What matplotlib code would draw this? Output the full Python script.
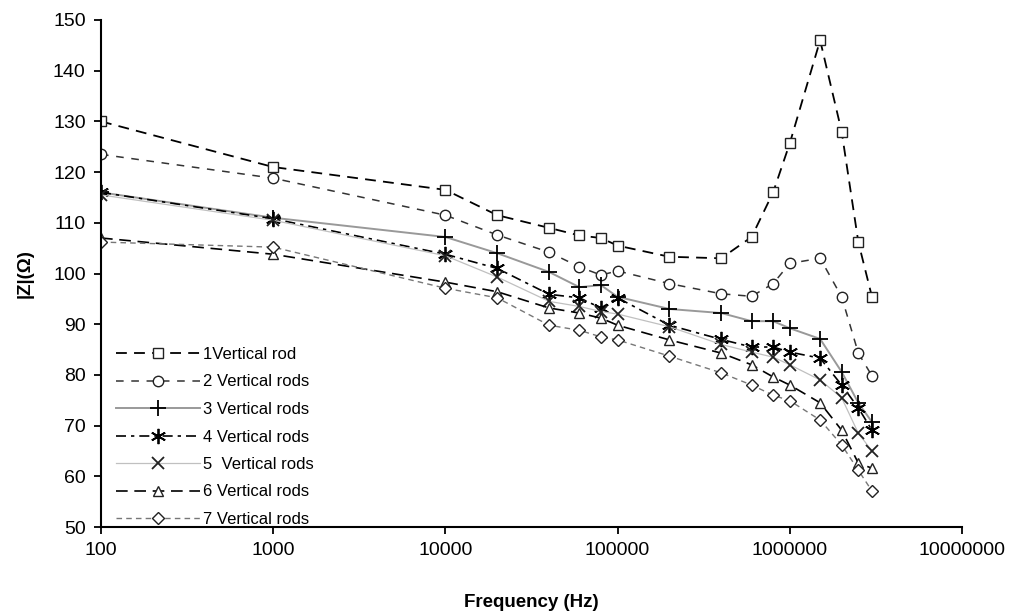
import matplotlib
matplotlib.use("Agg")
import matplotlib.pyplot as plt

# frequency points (Hz)
freq = [100, 1000, 10000, 20000, 40000, 60000, 80000, 100000, 200000,
        400000, 600000, 800000, 1000000, 1500000, 2000000, 2500000, 3000000]

rod1 = [130, 121, 116.5, 111.5, 109, 107.5, 107, 105.5, 103.3, 103, 107.2,
        116, 125.7, 146, 128, 106.2, 95.4]
rod2 = [123.5, 118.8, 111.5, 107.6, 104.2, 101.3, 99.7, 100.5, 98, 96, 95.5,
        98, 102, 103, 95.4, 84.3, 79.8]
rod3 = [116, 111, 107.2, 104, 100.3, 97.3, 97.7, 95.4, 93, 92.2, 90.6,
        90.6, 89.2, 87.1, 80.6, 74.5, 70.7]
rod4 = [116, 110.8, 103.8, 101, 95.9, 95.2, 93.2, 95.2, 89.8, 87, 85.5,
        85.5, 84.5, 83.3, 78, 73.5, 69.1]
rod5 = [115.5, 110.5, 103.5, 99.3, 94.5, 93.5, 92.5, 92, 89.5, 86, 84.5,
        83.5, 82, 79, 75.5, 68.5, 65]
rod6 = [107, 103.8, 98.3, 96.4, 93.2, 92.2, 91.2, 89.8, 86.9, 84.3, 82,
        79.6, 78, 74.5, 69.1, 62.6, 61.6]
rod7 = [106.2, 105.2, 97.1, 95.2, 89.8, 88.8, 87.5, 86.9, 83.7, 80.4, 78,
        76, 74.9, 71.1, 66.2, 61.2, 57.1]

labels = ["1Vertical rod", "2 Vertical rods", "3 Vertical rods", "4 Vertical rods",
          "5  Vertical rods", "6 Vertical rods", "7 Vertical rods"]
xticks = [100, 1000, 10000, 100000, 1000000, 10000000]

plt.rcParams["font.family"] = ["Liberation Sans", "DejaVu Sans"]

fig = plt.figure(figsize=(10.22, 6.16), dpi=100)
ax = fig.add_axes([101 / 1022, 1 - 527 / 616, 861 / 1022, 507 / 616])

mk = dict(markersize=7.5, markerfacecolor="white", markeredgecolor="#222", markeredgewidth=1.0)
ax.plot(freq, rod1, color="black", lw=1.3, dashes=(6, 4), marker="s", label=labels[0], **mk)
ax.plot(freq, rod2, color="#333", lw=1.1, dashes=(5, 5), marker="o", label=labels[1], **mk)
ax.plot(freq, rod3, color="#999", lw=1.4, ls="-", marker="+", label=labels[2],
        markersize=11, markeredgecolor="black", markeredgewidth=1.3)
ax.plot(freq, rod4, color="black", lw=1.2, dashes=(6, 3, 2, 3), marker=(6, 2, 0), label=labels[3],
        markersize=11, markeredgecolor="black", markeredgewidth=1.3)
ax.plot(freq, rod5, color="#c0c0c0", lw=0.9, ls="-", marker="x", label=labels[4],
        markersize=9, markeredgecolor="#222", markeredgewidth=1.3)
ax.plot(freq, rod6, color="black", lw=1.2, dashes=(7, 4), marker="^", label=labels[5], **mk)
ax.plot(freq, rod7, color="#777", lw=1.0, dashes=(4, 3), marker="D", label=labels[6],
        markersize=6.5, markerfacecolor="white", markeredgecolor="#222", markeredgewidth=1.0)

ax.set_xscale("log")
ax.set_xlim(100, 10000000)
ax.set_ylim(50, 150)
ax.set_xticks(xticks)
ax.set_xticklabels([str(v) for v in xticks])
ax.xaxis.set_minor_locator(matplotlib.ticker.NullLocator())
ax.set_yticks(range(50, 151, 10))

for s in ["top", "right"]:
    ax.spines[s].set_visible(False)
for s in ["left", "bottom"]:
    ax.spines[s].set_linewidth(1.5)
ax.tick_params(direction="out", length=5, width=1.3, labelsize=14, pad=6)

ax.set_xlabel("Frequency (Hz)", fontsize=13.5, fontweight="bold", labelpad=25)
ax.set_ylabel("|Z|(Ω)", fontsize=13.5, fontweight="bold", labelpad=14)

ax.legend(loc="lower left", bbox_to_anchor=(0.018, 0.0), frameon=False, fontsize=12,
          handlelength=5.0, handletextpad=0.2, labelspacing=0.75, borderpad=0, borderaxespad=0)

fig.savefig("out.png", dpi=100)
